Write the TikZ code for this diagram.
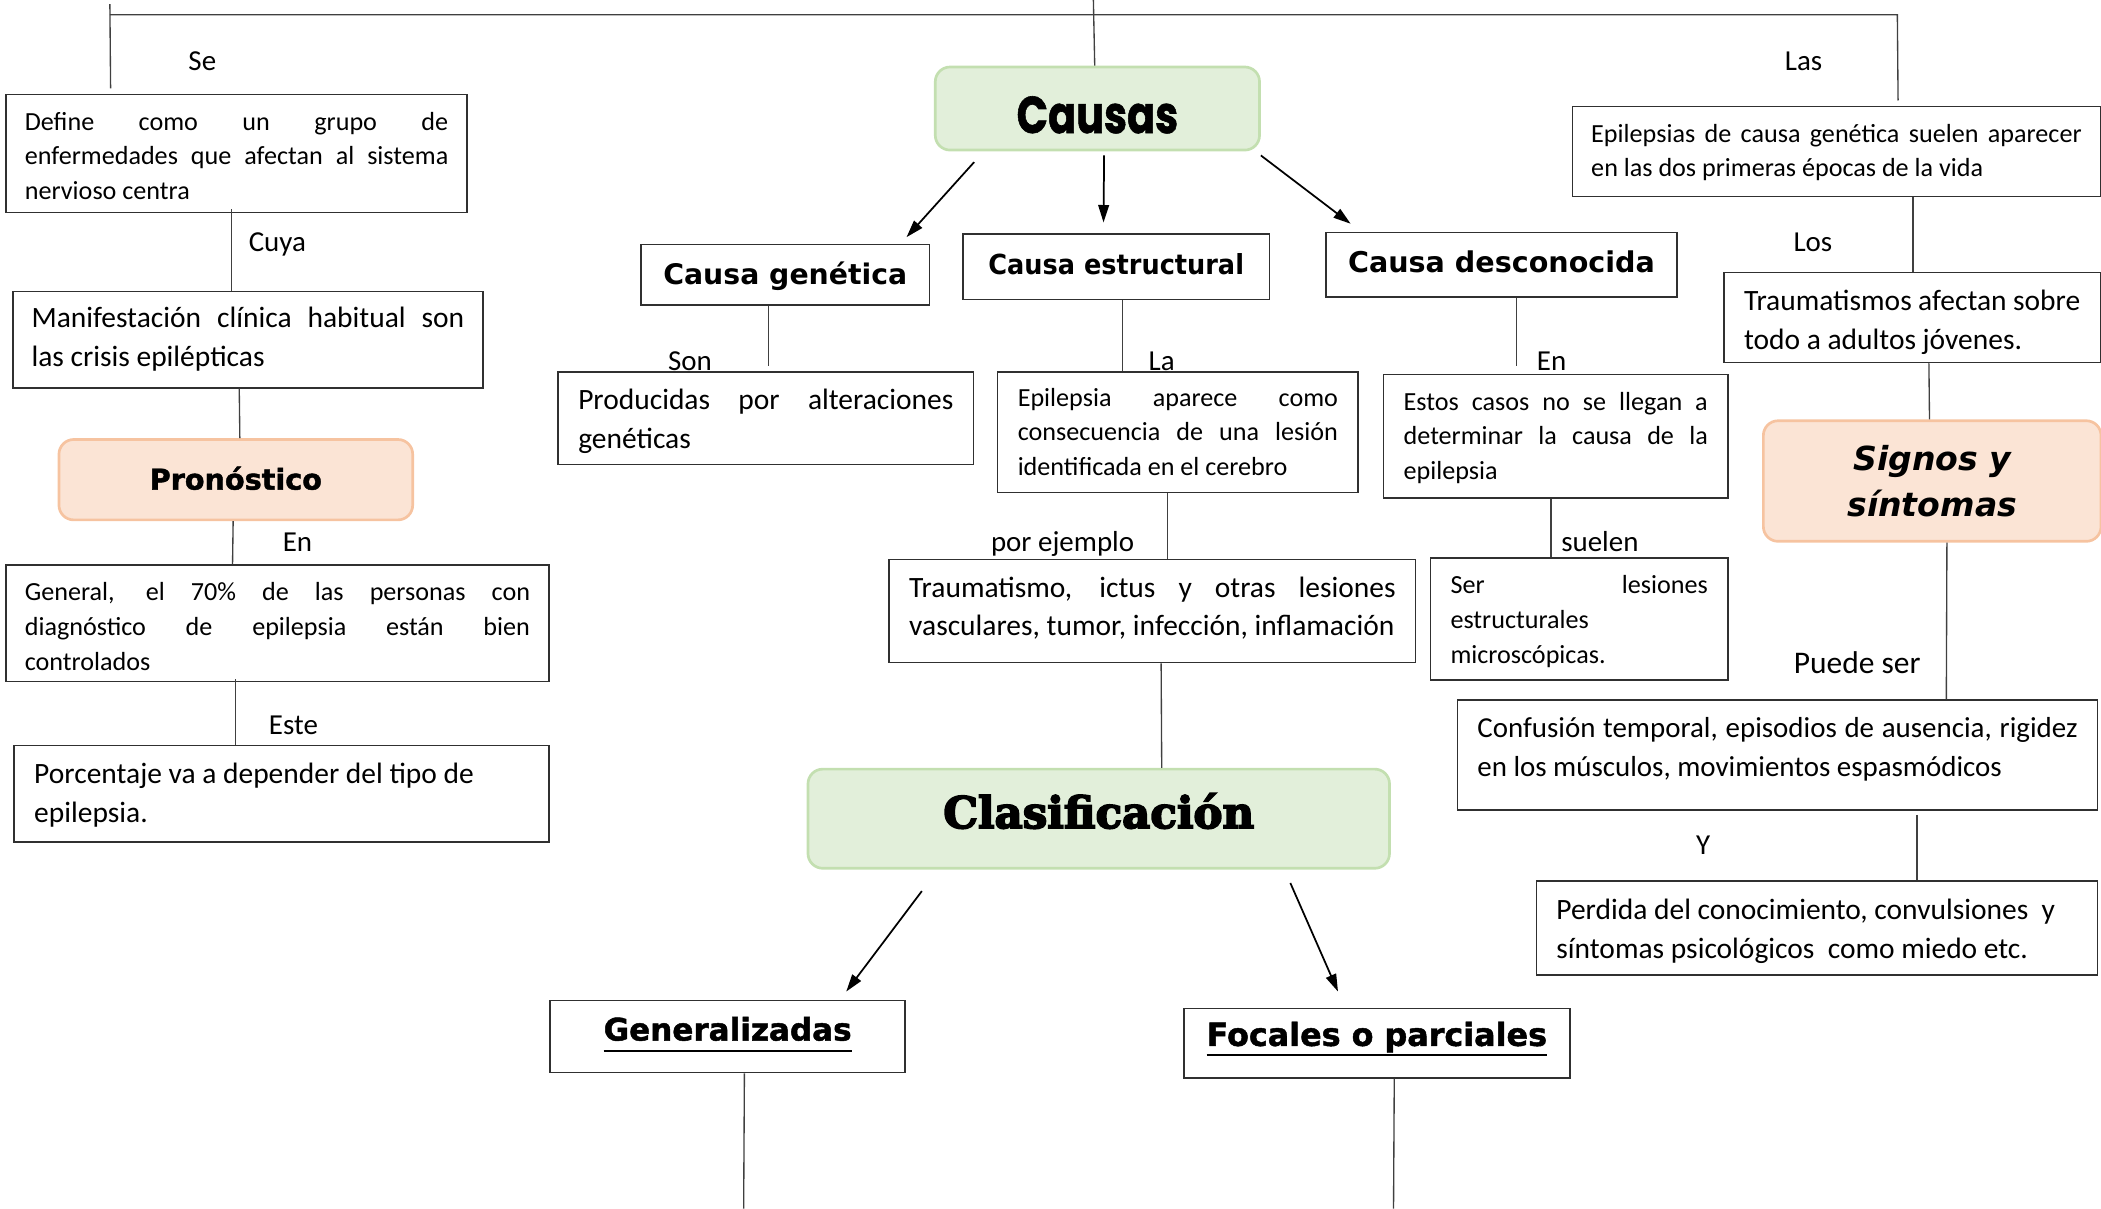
\documentclass[tikz,border=0pt]{standalone}
\usepackage{fontspec}
\usepackage{graphicx}
\usetikzlibrary{arrows.meta}
\setmainfont{Carlito}
\newfontfamily\fGeo{Poppins}[FakeBold=1.2]
\newfontfamily\fVerd{DejaVu Sans}
\newfontfamily\fVerdH{DejaVu Sans}[FakeBold=1.5]
\newfontfamily\fCooper{DejaVu Serif}[FakeBold=4]
\definecolor{bordc}{HTML}{303030}
\definecolor{linec}{HTML}{404040}
\definecolor{gfill}{HTML}{E2EFDA}
\definecolor{gbord}{HTML}{C3DFB0}
\definecolor{pfill}{HTML}{FBE4D5}
\definecolor{pbord}{HTML}{F6C3A0}
\newcommand\myul[1]{\setbox0\hbox{#1}\rlap{\rule[-7.6pt]{\wd0}{1.3pt}}\box0}
% heading: raise (baseline offset from centre), content
\newcommand\hd[2]{\raisebox{#1}[0pt][0pt]{#2}}
% text block: raise of first baseline above centre, width, text
\newcommand\tb[3]{\raisebox{#1}[0pt][0pt]{\parbox[t]{#2}{\tolerance=10000 \hyphenpenalty=10000 #3}}}
\begin{document}
\begin{tikzpicture}[x=1pt,y=-1pt,
  box/.style={draw=bordc, line width=1.1pt, anchor=north west, inner xsep=14pt, inner ysep=0pt},
  sm/.style={font=\fontsize{19.5}{26}\selectfont},
  bg/.style={font=\fontsize{22}{29}\selectfont},
  bgs/.style={font=\fontsize{21.6}{29}\selectfont},
  hbox/.style={draw=bordc, line width=1.1pt, anchor=north west, inner sep=0pt},
  gbox/.style={draw=gbord, fill=gfill, line width=2pt, rounded corners=11pt, anchor=north west, inner sep=0pt},
  pbox/.style={draw=pbord, fill=pfill, line width=2pt, rounded corners=11pt, anchor=north west, inner sep=0pt},
  lbl/.style={font=\fontsize{21.6}{26}\selectfont, inner sep=0pt, anchor=mid, yshift=-5pt},
  ln/.style={draw=linec, line width=1pt},
  arr/.style={draw=black, line width=1.3pt, -{Triangle[length=13pt,width=8pt]}}
]
\useasboundingbox (0,0) rectangle (1568,902);

% ---------- left column ----------
\node[box, sm, minimum width=344pt, minimum height=88pt] (define) at (4,70)
  {\tb{17.5pt}{316pt}{Define como un grupo de\linebreak enfermedades que afectan al sistema\linebreak nervioso centra}};
\node[box, bg, minimum width=351pt, minimum height=72pt] (manif) at (9,217)
  {\tb{9pt}{323pt}{Manifestación clínica habitual son\linebreak las crisis epilépticas}};
\node[pbox, minimum width=264pt, minimum height=60pt] (pron) at (43,327)
  {\hd{-7.4pt}{\resizebox{128.5pt}{!}{\fVerdH\bfseries Pronóstico}}};
\node[box, sm, minimum width=405pt, minimum height=87pt] (general) at (4,421)
  {\tb{17pt}{377pt}{General, el 70\% de las personas con\linebreak diagnóstico de epilepsia están bien\linebreak controlados}};
\node[box, bg, minimum width=399pt, minimum height=72pt, inner xsep=15pt] (porc) at (10,556)
  {\tb{8pt}{369pt}{Porcentaje va a depender del tipo de\newline epilepsia.}};

% ---------- centre ----------
\node[gbox, minimum width=242pt, minimum height=62pt] (causas) at (697,49)
  {\hd{-18.3pt}{\resizebox{120.6pt}{27.5pt}{\fGeo\bfseries Causas}}};
\node[hbox, minimum width=215pt, minimum height=45pt] (cgen) at (478,182)
  {\hd{-7pt}{\resizebox{182pt}{!}{\fVerd\bfseries Causa genética}}};
\node[hbox, minimum width=229pt, minimum height=49pt] (cest) at (718,174)
  {\hd{-5.5pt}{\scalebox{0.927}[1]{\fontsize{20.6}{24}\selectfont\fVerd\bfseries Causa estructural}}};
\node[hbox, minimum width=262pt, minimum height=48pt] (cdes) at (989,173)
  {\hd{-5.8pt}{\resizebox{229pt}{!}{\fVerd\bfseries Causa desconocida}}};

\node[box, bg, minimum width=310pt, minimum height=69pt, inner xsep=15pt] (prod) at (416,277)
  {\tb{6.5pt}{280pt}{Producidas por alteraciones\linebreak genéticas}};
\node[box, sm, minimum width=269pt, minimum height=90pt, inner xsep=15pt] (epi) at (744,277)
  {\tb{19.5pt}{239pt}{Epilepsia aparece como\linebreak consecuencia de una lesión\linebreak identificada en el cerebro}};
\node[box, sm, minimum width=257pt, minimum height=92pt, inner xsep=15pt] (estos) at (1032,279)
  {\tb{19.5pt}{227pt}{Estos casos no se llegan a\linebreak determinar la causa de la\linebreak epilepsia}};
\node[box, bg, minimum width=393pt, minimum height=77pt, inner xsep=15pt] (trauma) at (663,417)
  {\tb{10.5pt}{363pt}{Traumatismo, ictus y otras lesiones\linebreak vasculares, tumor, infección, inflamación}};
\node[box, sm, minimum width=222pt, minimum height=91pt, inner xsep=15pt] (ser) at (1067,416)
  {\tb{19pt}{192pt}{Ser lesiones\linebreak estructurales\newline microscópicas.}};

\node[gbox, minimum width=434pt, minimum height=74pt] (clas) at (602,573)
  {\hd{-7pt}{\resizebox{232pt}{!}{\fCooper\bfseries Clasificación}}};
\node[hbox, minimum width=265pt, minimum height=54pt] (gen) at (410,746)
  {\hd{-3pt}{\resizebox{185pt}{!}{\fontsize{20.6}{24}\selectfont\fVerdH\bfseries\myul{Generalizadas}}}};
\node[hbox, minimum width=288pt, minimum height=52pt] (foc) at (883,752)
  {\hd{-2pt}{\resizebox{254pt}{!}{\fontsize{23.6}{26}\selectfont\fVerdH\bfseries\myul{Focales o parciales}}}};

% ---------- right column ----------
\node[box, sm, minimum width=394pt, minimum height=67pt, inner xsep=14pt] (epil2) at (1173,79)
  {\tb{7pt}{366pt}{Epilepsias de causa genética suelen aparecer\linebreak en las dos primeras épocas de la vida}};
\node[box, bg, minimum width=281pt, minimum height=67pt, inner xsep=15pt] (traumas) at (1286,203)
  {\tb{5.5pt}{251pt}{Traumatismos afectan sobre\linebreak todo a adultos jóvenes.}};
\node[pbox, minimum width=252pt, minimum height=90pt, align=center,
      font=\fVerd\bfseries\itshape\fontsize{24.7}{34}\selectfont] (signos) at (1315,313)
  {Signos y\\síntomas};
\node[box, bgs, minimum width=478pt, minimum height=82pt, inner xsep=15pt] (conf) at (1087,522)
  {\tb{13pt}{448pt}{Confusión temporal, episodios de ausencia, rigidez\linebreak en los músculos, movimientos espasmódicos}};
\node[box, bg, minimum width=419pt, minimum height=70pt, inner xsep=15pt] (perd) at (1146,657)
  {\tb{6pt}{389pt}{Perdida del conocimiento, convulsiones\ \ y\newline síntomas psicológicos\ \ como miedo etc.}};

% ---------- labels ----------
\node[lbl] (lse) at (151,45) {Se};
\node[lbl] (lcuya) at (207,180) {Cuya};
\node[lbl] (len1) at (222,404) {En};
\node[lbl] (leste) at (219,541) {Este};
\node[lbl] (lson) at (515,269) {Son};
\node[lbl] (lla) at (867,269) {La};
\node[lbl] (len2) at (1158,269) {En};
\node[lbl] (lpor) at (793,404) {por ejemplo};
\node[lbl] (lsue) at (1194,404) {suelen};
\node[lbl] (llas) at (1346,45) {Las};
\node[lbl] (llos) at (1353,180) {Los};
\node[lbl, font=\fontsize{23.5}{26}\selectfont] (lpue) at (1386,495) {Puede ser};
\node[lbl] (ly) at (1271,630) {Y};

% ---------- top connector ----------
\coordinate (tl) at (82,3);
\coordinate (tlc) at (82,11);
\coordinate (trc) at (1416,11);
\coordinate (ttop) at (816,0);
\draw[ln] (tl) -- ([xshift=-94pt,yshift=4pt]define.north);
\draw[ln] (tlc) -- (trc) -- ([xshift=46pt,yshift=4pt]epil2.north);
\draw[ln] (ttop) -- ([xshift=-2pt]causas.north);

% ---------- connectors ----------
\draw[ln] ([xshift=-4pt,yshift=3pt]define.south) -- ([xshift=-12.5pt]manif.north);
\draw[ln] ([xshift=-6.5pt]manif.south) -- ([xshift=3pt]pron.north);
\draw[ln] ([xshift=-2pt]pron.south) -- ([xshift=-33.5pt]general.north);
\draw[ln] ([xshift=-31.5pt,yshift=2pt]general.south) -- ([xshift=-34.5pt]porc.north);

\draw[arr] ([xshift=-92pt,yshift=-8pt]causas.south) -- ([xshift=90.5pt,yshift=5pt]cgen.north);
\draw[arr] ([xshift=5pt,yshift=-3pt]causas.south) -- ([xshift=-9.5pt,yshift=8pt]cest.north);
\draw[arr] ([yshift=-3pt]causas.south east) -- ([xshift=19pt,yshift=6pt]cdes.north west);

\draw[ln] ([xshift=-12.5pt]cgen.south) -- ([xshift=2pt,yshift=4pt]prod.north);
\draw[ln] ([xshift=4.5pt]cest.south) -- ([xshift=-41.5pt]epi.north);
\draw[ln] ([xshift=11pt]cdes.south) -- ([xshift=-29.5pt,yshift=6pt]estos.north);
\draw[ln] ([xshift=-7.5pt]epi.south) -- ([xshift=11.5pt]trauma.north);
\draw[ln] ([xshift=-3.5pt]estos.south) -- ([xshift=-21pt]ser.north);
\draw[ln] ([xshift=6.5pt]trauma.south) -- ([xshift=47pt]clas.north);

\draw[arr] ([xshift=-132pt,yshift=-16pt]clas.south) -- ([xshift=88.5pt,yshift=6pt]gen.north);
\draw[arr] ([xshift=143pt,yshift=-10pt]clas.south) -- ([xshift=-29pt,yshift=12pt]foc.north);

\coordinate (gb) at (555,902);
\coordinate (fb) at (1040,902);
\draw[ln] ([xshift=12.5pt]gen.south) -- (gb);
\draw[ln] ([xshift=13pt]foc.south) -- (fb);

\draw[ln] ([xshift=57pt]epil2.south) -- ([xshift=0.5pt]traumas.north);
\draw[ln] ([xshift=12.5pt]traumas.south) -- ([xshift=-2pt]signos.north);
\draw[ln] ([xshift=11pt]signos.south) -- ([xshift=126pt]conf.north);
\draw[ln] ([xshift=104pt,yshift=-3pt]conf.south) -- ([xshift=74.5pt]perd.north);
\end{tikzpicture}
\end{document}
